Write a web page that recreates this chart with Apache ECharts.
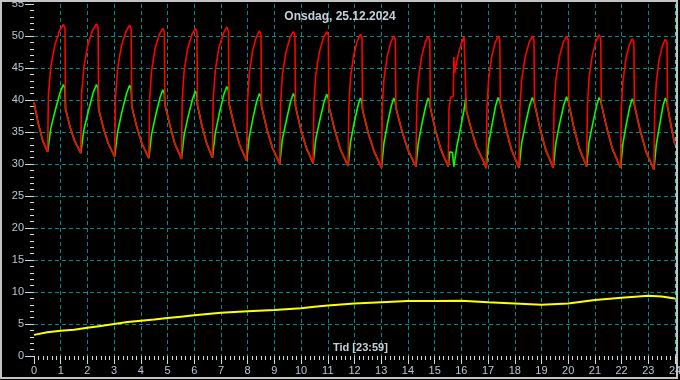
<!DOCTYPE html>
<html>
<head>
<meta charset="utf-8">
<script src="https://cdn.jsdelivr.net/npm/echarts@6/dist/echarts.min.js"></script>
<style>
html,body{margin:0;padding:0;background:#ffffff;}
#c{width:680px;height:380px;}
</style>
</head>
<body>
<div id="c"></div>
<script>
// ---- data (hour, °C) ----
const titleText = 'Onsdag, 25.12.2024';
const xName = 'Tid [23:59]';
const yName = '°C';

const redSeries = [
[0,39.7],[0.15,36.5],[0.33,33.6],
[0.51,31.9],[0.54,40.8],[0.63,45.2],[0.78,48.6],[0.95,50.8],[1.10,51.8],[1.16,51.2],[1.18,38.6],[1.35,35.8],[1.52,33.6],
[1.75,31.7],[1.78,40.8],[1.87,45.2],[2.02,48.7],[2.19,50.9],[2.34,51.9],[2.40,51.3],[2.42,38.6],[2.60,35.6],[2.78,33.2],
[3.02,31.1],[3.05,40.4],[3.13,44.9],[3.27,48.4],[3.44,50.7],[3.58,51.7],[3.64,51.1],[3.66,39.0],[3.85,35.8],[4.04,33.2],
[4.30,30.9],[4.33,40.0],[4.40,44.5],[4.53,48.0],[4.69,50.2],[4.82,51.2],[4.88,50.6],[4.90,39.4],[5.09,36.0],[5.27,33.2],
[5.52,30.8],[5.55,40.0],[5.62,44.5],[5.75,48.0],[5.91,50.2],[6.04,51.2],[6.10,50.6],[6.12,39.2],[6.29,35.9],[6.46,33.3],
[6.68,31.0],[6.71,40.2],[6.79,44.7],[6.92,48.1],[7.09,50.4],[7.22,51.4],[7.28,50.8],[7.30,39.5],[7.50,35.9],[7.70,33.0],
[7.96,30.5],[7.99,39.6],[8.06,44.1],[8.18,47.6],[8.32,49.8],[8.44,50.8],[8.50,50.2],[8.52,39.0],[8.72,35.4],[8.93,32.5],
[9.20,30.0],[9.23,39.3],[9.30,43.9],[9.43,47.4],[9.58,49.7],[9.71,50.7],[9.77,50.1],[9.79,39.0],[9.99,35.4],[10.19,32.6],
[10.45,30.1],[10.48,39.4],[10.55,43.9],[10.68,47.4],[10.83,49.7],[10.96,50.7],[11.02,50.1],[11.04,39.0],[11.26,35.3],[11.47,32.3],
[11.76,29.7],[11.79,39.0],[11.85,43.5],[11.97,47.0],[12.11,49.3],[12.22,50.3],[12.28,49.7],[12.30,38.5],[12.51,34.9],[12.73,32.0],
[13.01,29.4],[13.04,38.7],[13.10,43.2],[13.22,46.7],[13.36,49.0],[13.47,50.0],[13.53,49.4],[13.55,38.8],[13.78,35.1],[14.00,32.2],
[14.30,29.6],[14.33,38.8],[14.39,43.3],[14.51,46.7],[14.65,49.0],[14.76,50.0],[14.82,49.4],[14.84,38.8],[15.04,35.1],[15.24,32.2],
[15.51,29.6],[15.54,38.7],[15.60,40.4],[15.70,40.6],[15.72,46.7],[15.75,44.2],[15.80,45.4],[15.90,47.4],[16.00,48.8],[16.10,49.9],[16.17,50.2],[16.19,38.3],[16.38,35.3],[16.57,32.7],[16.81,30.6],
[16.93,29.35],[16.96,38.6],[17.02,43.2],[17.13,46.7],[17.27,49.0],[17.38,50.0],[17.44,49.4],[17.46,39.5],[17.67,35.5],[17.88,32.2],
[18.16,29.4],[18.19,38.7],[18.26,43.2],[18.39,46.7],[18.54,49.0],[18.66,50.0],[18.72,49.4],[18.74,39.5],[18.95,35.5],[19.16,32.2],
[19.44,29.4],[19.47,38.7],[19.54,43.2],[19.67,46.7],[19.82,49.0],[19.94,50.0],[20.00,49.4],[20.02,39.5],[20.22,35.5],[20.42,32.4],
[20.69,29.6],[20.72,38.9],[20.78,43.4],[20.90,46.9],[21.04,49.2],[21.16,50.2],[21.22,49.6],[21.24,39.4],[21.46,35.4],[21.67,32.2],
[21.96,29.4],[21.99,38.5],[22.05,42.9],[22.16,46.4],[22.29,48.6],[22.40,49.6],[22.46,49.0],[22.48,39.2],[22.70,35.2],[22.92,31.9],
[23.21,29.1],[23.24,38.3],[23.30,42.8],[23.40,46.2],[23.53,48.5],[23.64,49.5],[23.70,48.9],[23.72,39.0],[23.86,35.8],[24.00,33.0]
];

const greenSeries = [
[0,39.6],[0.15,36.5],[0.33,33.6],
[0.51,31.9],[0.63,35.6],[0.81,38.6],[0.98,41.2],[1.10,42.4],[1.16,41.8],[1.18,38.6],[1.35,35.8],[1.52,33.6],
[1.75,31.7],[1.87,35.4],[2.05,38.5],[2.22,41.2],[2.34,42.4],[2.40,41.8],[2.42,38.6],[2.60,35.6],[2.78,33.2],
[3.02,31.1],[3.13,35.0],[3.30,38.3],[3.47,41.1],[3.58,42.3],[3.64,41.7],[3.66,39.0],[3.85,35.8],[4.04,33.2],
[4.30,30.9],[4.40,34.6],[4.56,37.7],[4.72,40.4],[4.82,41.6],[4.88,41.0],[4.90,39.4],[5.09,36.0],[5.27,33.2],
[5.52,30.8],[5.62,34.5],[5.78,37.6],[5.94,40.2],[6.04,41.4],[6.10,40.8],[6.12,39.2],[6.29,35.9],[6.46,33.3],
[6.68,31.0],[6.79,34.9],[6.95,38.1],[7.11,40.9],[7.22,42.1],[7.28,41.5],[7.30,39.5],[7.50,35.9],[7.70,33.0],
[7.96,30.5],[8.06,34.2],[8.20,37.2],[8.34,39.8],[8.44,41.0],[8.50,40.4],[8.52,39.0],[8.72,35.4],[8.93,32.5],
[9.20,30.0],[9.30,33.9],[9.46,37.0],[9.61,39.8],[9.71,41.0],[9.77,40.4],[9.79,39.0],[9.99,35.4],[10.19,32.6],
[10.45,30.1],[10.55,33.9],[10.71,37.0],[10.86,39.7],[10.96,40.9],[11.02,40.3],[11.04,39.0],[11.26,35.3],[11.47,32.3],
[11.76,29.7],[11.85,33.4],[11.99,36.5],[12.13,39.1],[12.22,40.3],[12.28,39.7],[12.30,38.5],[12.51,34.9],[12.73,32.0],
[13.01,29.4],[13.10,33.2],[13.24,36.4],[13.38,39.1],[13.47,40.3],[13.53,39.7],[13.55,38.8],[13.78,35.1],[14.00,32.2],
[14.30,29.6],[14.39,33.3],[14.53,36.4],[14.67,39.1],[14.76,40.3],[14.82,39.7],[14.84,38.8],[15.04,35.1],[15.24,32.2],
[15.51,29.6],[15.57,31.9],[15.67,31.8],[15.72,29.6],[15.83,32.7],[15.98,35.8],[16.10,38.4],[16.17,40.4],[16.19,38.3],[16.38,35.3],[16.57,32.7],[16.81,30.6],
[16.93,29.35],[17.02,33.2],[17.16,36.4],[17.29,39.2],[17.38,40.4],[17.44,39.8],[17.46,39.5],[17.67,35.5],[17.88,32.2],
[18.16,29.4],[18.26,33.3],[18.41,36.4],[18.56,39.2],[18.66,40.4],[18.72,39.8],[18.74,39.5],[18.95,35.5],[19.16,32.2],
[19.44,29.4],[19.54,33.3],[19.69,36.5],[19.84,39.3],[19.94,40.5],[20.00,39.9],[20.02,39.5],[20.22,35.5],[20.42,32.4],
[20.69,29.6],[20.78,33.4],[20.93,36.5],[21.07,39.2],[21.16,40.4],[21.22,39.8],[21.24,39.4],[21.46,35.4],[21.67,32.2],
[21.96,29.4],[22.05,33.2],[22.18,36.3],[22.31,39.0],[22.40,40.2],[22.46,39.6],[22.48,39.2],[22.70,35.2],[22.92,31.9],
[23.21,29.1],[23.30,33.0],[23.43,36.2],[23.55,39.1],[23.64,40.3],[23.70,39.7],[23.72,39.0],[23.86,35.8],[24.00,33.0]
];

const yellowSeries = [
[0,3.3],[0.5,3.7],[1,3.95],[1.5,4.1],[2,4.4],[2.5,4.7],[3,5.0],[3.5,5.3],[4,5.5],[4.5,5.7],
[5,5.95],[5.5,6.15],[6,6.35],[7,6.75],[8,7.0],[9,7.2],[10,7.45],[10.5,7.7],[11,7.9],[12,8.2],
[13,8.4],[14,8.6],[15,8.6],[16,8.65],[17,8.4],[18,8.2],[19,8.0],[20,8.2],[21,8.75],[22,9.1],
[23,9.4],[23.5,9.3],[24,9.0]
];

const xMin = 0, xMax = 24, xStep = 1;
const yMin = 0, yMax = 55, yStep = 5;

// ---- chart ----
const teal = '#008c8c';
const xSplitColors = ['rgba(0,0,0,0)'];
for (let i = 1; i < 24; i++) xSplitColors.push(teal);
xSplitColors.push('#00d8d8');
const ySplitColors = ['rgba(0,0,0,0)'];
for (let i = 1; i < 11; i++) ySplitColors.push(teal);
ySplitColors.push('rgba(0,0,0,0)');

const labelColor = '#b8c8d8';
const tickColor = '#d8d8d8';
const font = 'Liberation Sans';

const chart = echarts.init(document.getElementById('c'), null, {renderer: 'canvas'});
chart.setOption({
  animation: false,
  backgroundColor: '#000000',
  grid: {left: 34, right: 5, top: 4, bottom: 24, containLabel: false, outerBoundsMode: 'none'},
  xAxis: {
    type: 'value', min: xMin, max: xMax, interval: xStep,
    axisLine: {show: false},
    axisTick: {show: true, length: 8, lineStyle: {color: tickColor, width: 1}},
    minorTick: {show: true, splitNumber: 6, length: 4, lineStyle: {color: tickColor, width: 1}},
    axisLabel: {color: labelColor, fontSize: 11, fontFamily: font, margin: 9},
    splitLine: {show: true, lineStyle: {color: xSplitColors, type: [4, 3], width: 1}}
  },
  yAxis: {
    type: 'value', min: yMin, max: yMax, interval: yStep,
    name: yName, nameLocation: 'middle', nameGap: 24, nameRotate: 90,
    nameTextStyle: {color: labelColor, fontSize: 11, fontWeight: 'bold', fontFamily: font},
    axisLine: {show: false},
    axisTick: {show: true, length: 9, lineStyle: {color: tickColor, width: 1}},
    minorTick: {show: true, splitNumber: 5, length: 4, lineStyle: {color: tickColor, width: 1}},
    axisLabel: {color: labelColor, fontSize: 11, fontFamily: font, margin: 10},
    splitLine: {show: true, lineStyle: {color: ySplitColors, type: [4, 3], width: 1}}
  },
  graphic: [
    {type: 'text', left: 'center', top: 11, style: {text: titleText, fill: '#c8d0dc', font: 'bold 12px "Liberation Sans"'}, z: 100},
    {type: 'text', left: 333, top: 342, style: {text: xName, fill: '#c8d0dc', font: 'bold 11px "Liberation Sans"'}, z: 100},
    {type: 'rect', shape: {x: 1, y: 1, width: 676, height: 377}, style: {fill: 'none', stroke: '#c4c4c4', lineWidth: 2}, z: 100, silent: true}
  ],
  series: [
    {type: 'line', data: yellowSeries, showSymbol: false, symbol: 'none', lineStyle: {color: '#ffff00', width: 2}, z: 2},
    {type: 'line', data: greenSeries, showSymbol: false, symbol: 'none', lineStyle: {color: '#00ff00', width: 1.6}, z: 3},
    {type: 'line', data: redSeries, showSymbol: false, symbol: 'none', lineStyle: {color: '#ff0000', width: 1.6}, z: 4}
  ]
});
</script>
</body>
</html>
